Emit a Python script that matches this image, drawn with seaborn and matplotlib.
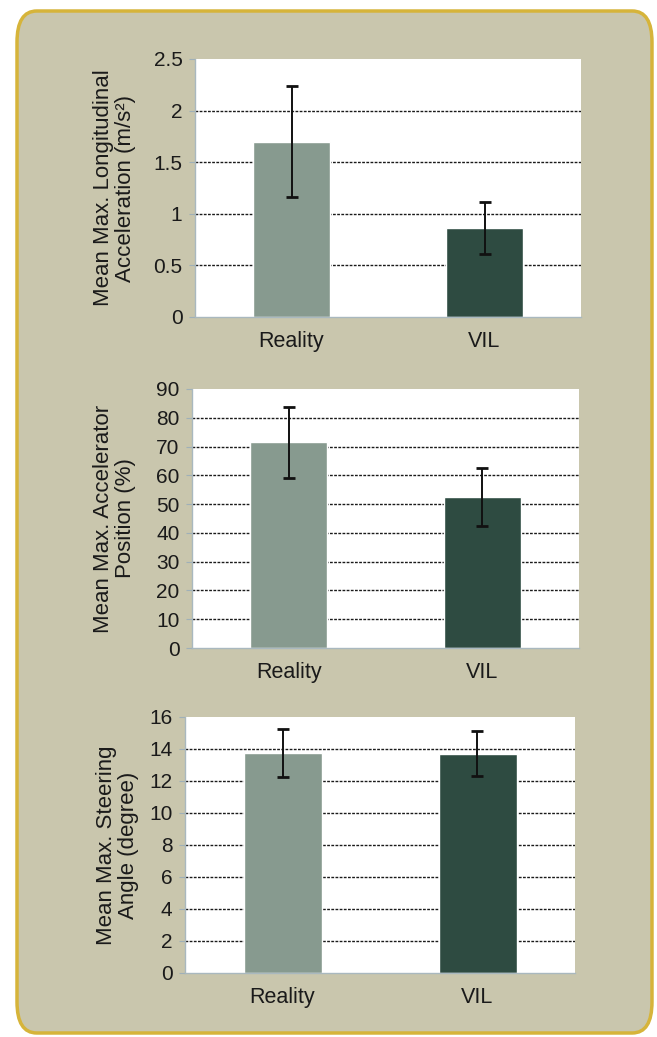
import matplotlib
matplotlib.use("Agg")
import matplotlib.pyplot as plt
from matplotlib.patches import FancyBboxPatch
import seaborn as sns
import pandas as pd

# Data
groups = ["Reality", "VIL"]
accel_mean = [1.70, 0.86]
accel_err = [0.54, 0.25]
pedal_mean = [71.5, 52.5]
pedal_err = [12.3, 10.0]
steer_mean = [13.75, 13.7]
steer_err = [1.5, 1.4]

bar_colors = ["#879a8f", "#2e4b41"]
panel_bg = "#c9c6ad"
edge_gold = "#d6b43a"

sns.set_theme(style="white")
plt.rcParams["font.family"] = ["Liberation Sans", "DejaVu Sans"]

W, H = 657, 1037
fig = plt.figure(figsize=(W / 100, H / 100), dpi=100)
fig.patch.set_facecolor("white")

# rounded background card
card = FancyBboxPatch((17 / W, 4 / H), 635 / W, 1022 / H,
                      boxstyle="round,pad=0,rounding_size=0.03",
                      transform=fig.transFigure, facecolor=panel_bg,
                      edgecolor=edge_gold, linewidth=2.5, zorder=-10)
fig.patches.append(card)


def px_axes(left, top, right, bottom):
    return fig.add_axes([left / W, 1 - bottom / H, (right - left) / W, (bottom - top) / H])


# (axes, means, errors, ymax, step, label, tick labels, label x in axes coords)
panels = [
    (px_axes(195, 59, 581, 317), accel_mean, accel_err, 2.5, 0.5,
     "Mean Max. Longitudinal\nAcceleration (m/s²)", ["0", "0.5", "1", "1.5", "2", "2.5"], -0.153),
    (px_axes(192, 389, 579, 648), pedal_mean, pedal_err, 90, 10,
     "Mean Max. Accelerator\nPosition (%)", None, -0.145),
    (px_axes(185, 717, 575, 973), steer_mean, steer_err, 16, 2,
     "Mean Max. Steering\nAngle (degree)", None, -0.118),
]

for ax, means, errs, ymax, step, ylabel, ticklabels, lab_x in panels:
    df = pd.DataFrame({"group": groups, "value": means})
    sns.barplot(data=df, x="group", y="value", hue="group", palette=bar_colors,
                width=0.4, saturation=1, legend=False, ax=ax, zorder=2)
    ax.errorbar(range(len(groups)), means, yerr=errs, fmt="none", ecolor="#111111",
                elinewidth=1.4, capsize=4.5, capthick=2, zorder=3)
    ax.set_facecolor("white")
    ax.set_xlim(-0.5, 1.5)
    ax.set_ylim(0, ymax)
    ticks = [i * step for i in range(int(round(ymax / step)) + 1)]
    ax.set_yticks(ticks)
    if ticklabels:
        ax.set_yticklabels(ticklabels)
    else:
        ax.set_yticklabels([f"{t:g}" for t in ticks])
    for t in ticks[1:-1]:
        ax.axhline(t, color="#1a1a1a", linestyle=(0, (2, 1.0)), linewidth=1.0, zorder=1)
    ax.set_xlabel("")
    ax.set_ylabel(ylabel, fontsize=16, color="#1a1a1a", linespacing=1.05)
    ax.yaxis.set_label_coords(lab_x, 0.5)
    ax.tick_params(axis="y", which="major", left=True, length=4, width=0.8,
                   color="#9fb0b8", labelsize=15, labelcolor="#1a1a1a", pad=5)
    ax.tick_params(axis="x", bottom=False, labelsize=15.5, labelcolor="#1a1a1a", pad=4)
    for side in ["top", "right"]:
        ax.spines[side].set_visible(False)
    for side in ["left", "bottom"]:
        ax.spines[side].set_color("#a9b8bf")
        ax.spines[side].set_linewidth(1.0)

fig.savefig("out.png", dpi=100, facecolor=fig.get_facecolor())
